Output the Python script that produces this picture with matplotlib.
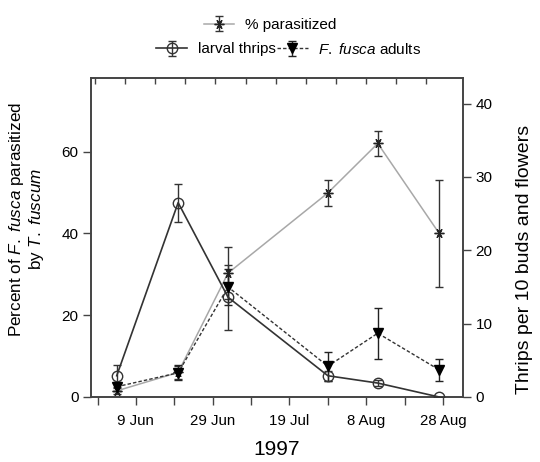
import numpy as np
import matplotlib
matplotlib.use("Agg")
import matplotlib.pyplot as plt
import matplotlib.dates as mdates

plt.rcParams['font.family'] = ['Liberation Sans', 'DejaVu Sans']
plt.rcParams['mathtext.fontset'] = 'custom'
plt.rcParams['mathtext.rm'] = 'Liberation Sans'
plt.rcParams['mathtext.it'] = 'Liberation Sans:italic'
plt.rcParams['mathtext.bf'] = 'Liberation Sans:bold'

# ---- data ----
dates = np.array(['1997-06-04', '1997-06-20', '1997-07-03', '1997-07-29',
                  '1997-08-11', '1997-08-27'], dtype='datetime64[D]')
pct_parasitized = [1.5, 6.0, 30.3, 49.9, 62.0, 40.0]
pct_err = [0.8, 1.6, 6.4, 3.1, 3.0, 13.0]
larval_thrips = [2.9, 26.5, 13.6, 2.9, 1.9, 0.0]
larval_err = [1.5, 2.6, 4.4, 0.7, 0.4, 0.0]
adults = [1.4, 3.3, 15.0, 4.2, 8.7, 3.7]
adults_err = [0.6, 1.0, 2.4, 2.0, 3.5, 1.5]
xtick_dates = np.array(['1997-06-09', '1997-06-29', '1997-07-19',
                        '1997-08-08', '1997-08-28'], dtype='datetime64[D]')
xtick_labels = ['9 Jun', '29 Jun', '19 Jul', '8 Aug', '28 Aug']

x = mdates.date2num(dates.astype('datetime64[s]').astype(object))
xt = mdates.date2num(xtick_dates.astype('datetime64[s]').astype(object))

fig = plt.figure(figsize=(5.4, 4.62), dpi=100)
ax = fig.add_axes([91/540, 1-397/462, (463-91)/540, (397-78)/462])
ax2 = ax.twinx()

spine_c = '#444444'

# % parasitized (left axis)
h1 = ax.errorbar(x, pct_parasitized, yerr=pct_err, color='#a8a8a8', lw=1.1,
                 marker=(6, 2, 30), ms=7, mec='#222222', mfc='#222222', mew=1.0,
                 ecolor='#333333', elinewidth=1.0, capsize=3, capthick=1.0, zorder=3)

# thrips (right axis)
h2 = ax2.errorbar(x, larval_thrips, yerr=larval_err, color='#333333', lw=1.2,
                  marker='o', ms=7.5, mfc='none', mec='#333333', mew=1.0,
                  ecolor='#333333', elinewidth=1.0, capsize=3, capthick=1.0, zorder=3)
h3 = ax2.errorbar(x, adults, yerr=adults_err, color='#333333', lw=1.0,
                  ls=(0, (2.5, 1.5)), marker='v', ms=6.5, mfc='black', mec='black',
                  ecolor='#222222', elinewidth=1.0, capsize=3, capthick=1.0, zorder=3)

xmin = xt[0] - 11.7
xmax = xt[0] + 85.2
ax.set_xlim(xmin, xmax)
ax.set_ylim(0, 78.0)
ax2.set_ylim(0, 43.5)

ax.set_yticks([0, 20, 40, 60])
ax2.set_yticks([0, 10, 20, 30, 40])
ax.set_xticks(xt)
ax.set_xticklabels(xtick_labels)
ax.set_xticks(list(xt[:-1] + 10) + [xt[0] - 10], minor=True)

for a in (ax, ax2):
    for s in a.spines.values():
        s.set_color(spine_c)
        s.set_linewidth(1.2)
ax.tick_params(axis='both', which='both', direction='out', length=6, width=1.0,
               color=spine_c, labelsize=11, pad=3)
ax.tick_params(axis='x', which='major', labelsize=10.8, pad=6)
ax2.tick_params(axis='y', direction='out', length=6, width=1.0, color=spine_c,
                labelsize=11, pad=3)

# top inward ticks
sec = ax.secondary_xaxis('top')
sec.set_xticks(xmin + 1 + np.arange(12) * 7.85)
sec.tick_params(direction='in', length=4, width=1.0, color=spine_c, labeltop=False)
sec.spines['top'].set_visible(False)

ax.set_xlabel('1997', fontsize=15, labelpad=9)
ax.set_ylabel('Percent of $\\it{F.}$ $\\it{fusca}$ parasitized\nby $\\it{T.}$ $\\it{fuscum}$',
              fontsize=12.3, linespacing=1.1)
ax.yaxis.set_label_coords(-0.121, 0.557)
ax2.set_ylabel('Thrips per 10 buds and flowers', fontsize=14)
ax2.yaxis.set_label_coords(1.1425, 0.43)

# legends
leg1 = fig.legend([h1], ['% parasitized'], loc='center', bbox_to_anchor=(0.5, 1 - 25/462),
                  frameon=False, fontsize=11, handlelength=2.0, handletextpad=0.7,
                  borderpad=0, borderaxespad=0)
leg2 = fig.legend([h2, h3], ['larval thrips', '$\\it{F.}$ $\\it{fusca}$ adults'], loc='center',
                  bbox_to_anchor=(0.535, 1 - 49/462), ncol=2, frameon=False, fontsize=11,
                  handlelength=2.0, handletextpad=0.7, columnspacing=0.1,
                  borderpad=0, borderaxespad=0)

fig.savefig('out.png', dpi=100)
